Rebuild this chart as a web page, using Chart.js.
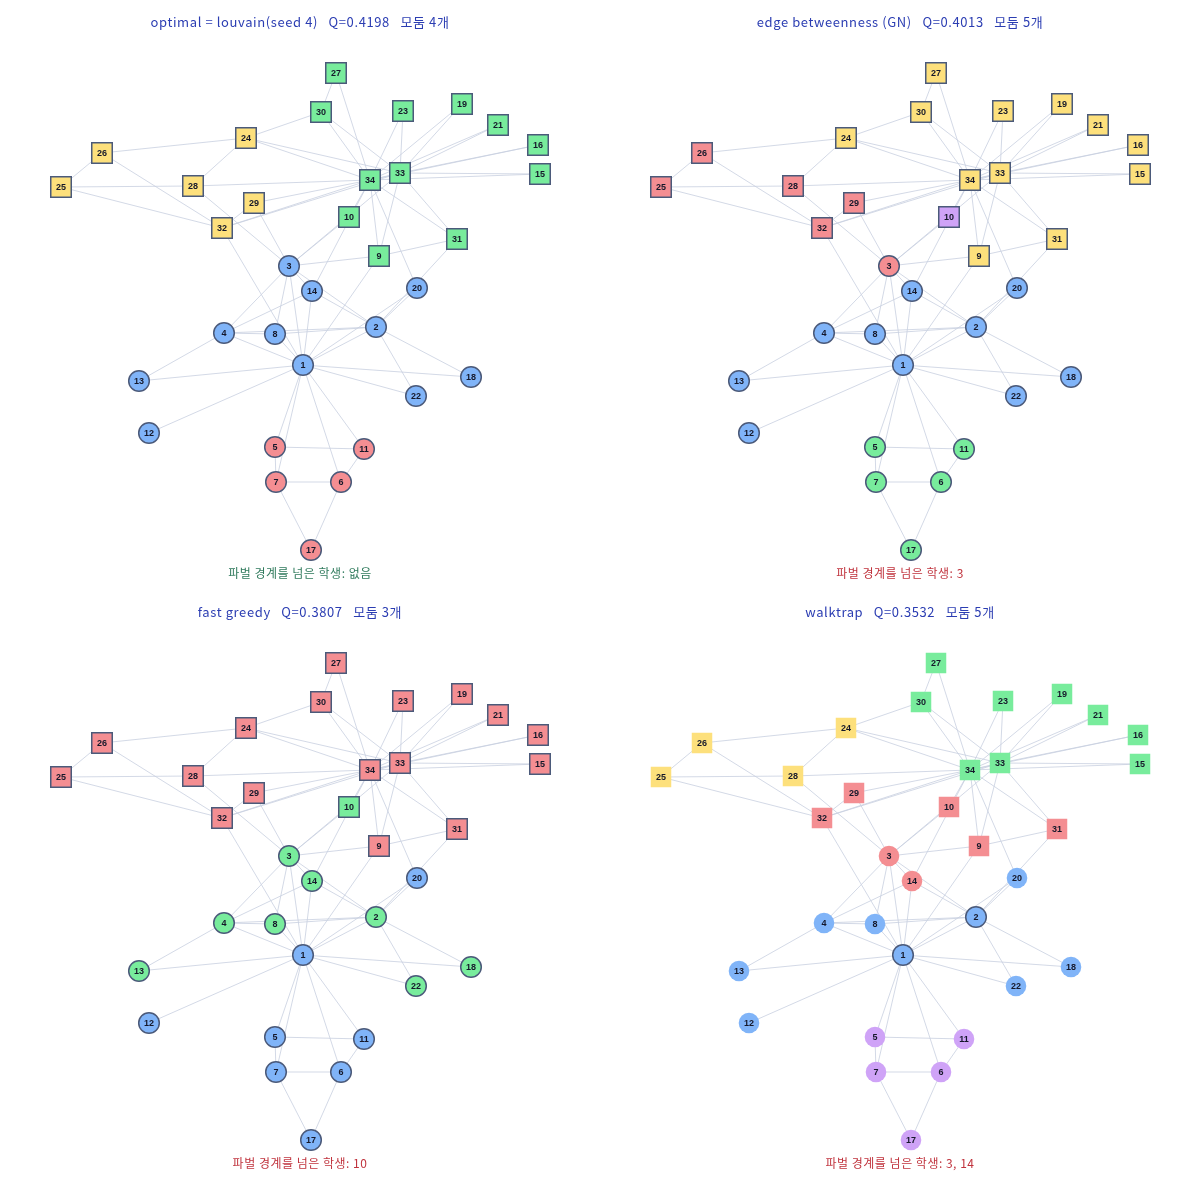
<!DOCTYPE html>
<html>
<head>
<meta charset="utf-8">
<script src="https://cdn.jsdelivr.net/npm/chart.js@4.4.1/dist/chart.umd.min.js"></script>
<style>
  body { margin: 0; background: #fff; }
  #wrap { position: relative; width: 1200px; height: 1180px; }
  .panel { position: absolute; width: 600px; height: 590px; }
  .panel canvas { position: absolute; left: 0; top: 0; }
  .ttl { position: absolute; left: 0; width: 600px; top: 12px; text-align: center; letter-spacing: 0.6px;
         font: 13px "Noto Sans CJK KR", "Noto Sans", sans-serif; color: #2b3db2; white-space: pre; }
  .cap { position: absolute; left: 0; width: 600px; top: 564px; text-align: center; letter-spacing: 0.5px;
         font: 12px "Noto Sans CJK KR", "Noto Sans", sans-serif; white-space: pre; }
</style>
</head>
<body>
<div id="wrap"></div>
<script>
// node ids and layout position (same layout in all 4 panels)
var nodeIds = [1,2,3,4,5,6,7,8,9,10,11,12,13,14,15,16,17,18,19,20,21,22,23,24,25,26,27,28,29,30,31,32,33,34];
var nodeX = [0.03,0.76,-0.11,-0.76,-0.25,0.41,-0.24,-0.25,0.79,0.49,0.64,-1.51,-1.61,0.12,2.40,2.38,0.11,1.71,1.62,1.17,1.98,1.16,1.03,-0.54,-2.39,-1.98,0.36,-1.07,-0.46,0.21,1.57,-0.78,1.00,0.70];
var nodeY = [0.00,0.38,0.99,0.32,-0.82,-1.17,-1.17,0.31,1.09,1.48,-0.84,-0.68,-0.16,0.74,1.91,2.20,-1.85,-0.12,2.61,0.77,2.40,-0.31,2.54,2.27,1.78,2.12,2.92,1.79,1.62,2.53,1.26,1.37,1.92,1.85];

// real faction: 0 = Mr. Hi (circle), 1 = Officer (square)
var faction = [0,0,0,0,0,0,0,0,1,1,0,0,0,0,1,1,0,0,1,0,1,0,1,1,1,1,1,1,1,1,1,1,1,1];

var edges = [
  [1,2],[1,3],[1,4],[1,5],[1,6],[1,7],[1,8],[1,9],[1,11],[1,12],[1,13],[1,14],[1,18],[1,20],[1,22],[1,32],
  [2,3],[2,4],[2,8],[2,14],[2,18],[2,20],[2,22],[2,31],
  [3,4],[3,8],[3,9],[3,10],[3,14],[3,28],[3,29],[3,33],
  [4,8],[4,13],[4,14],[5,7],[5,11],[6,7],[6,11],[6,17],[7,17],
  [9,31],[9,33],[9,34],[10,34],[14,34],[15,33],[15,34],[16,33],[16,34],[19,33],[19,34],
  [20,34],[21,33],[21,34],[23,33],[23,34],[24,26],[24,28],[24,30],[24,33],[24,34],
  [25,26],[25,28],[25,32],[26,32],[27,30],[27,34],[28,34],[29,32],[29,34],[30,33],[30,34],
  [31,33],[31,34],[32,33],[32,34],[33,34]
];

// community colour per node (B blue, R red, G green, Y yellow, P purple)
var commLouvain   = "BBBBRRRBGGRBBBGGRBGBGBGYYYGYYGGYGG";
var commGN        = "BBRBGGGBYPGBBBYYGBYBYBYYRRYRRYYRYY";
var commFast      = "BGGGBBBGRGBBGGRRBGRBRGRRRRRRRRRRRR";
var commWalktrap  = "BBRBPPPBRRPBBRGGPBGBGBGYYYGYRGRRGG";

var titles = [
  "optimal = louvain(seed 4)   Q=0.4198   모둠 4개",
  "edge betweenness (GN)   Q=0.4013   모둠 5개",
  "fast greedy   Q=0.3807   모둠 3개",
  "walktrap   Q=0.3532   모둠 5개"
];
var captions = [
  "파벌 경계를 넘은 학생: 없음",
  "파벌 경계를 넘은 학생: 3",
  "파벌 경계를 넘은 학생: 10",
  "파벌 경계를 넘은 학생: 3, 14"
];
var captionColors = ["#2f7a5c", "#c0333d", "#c0333d", "#c0333d"];

var palette = { B: "#80b4f8", R: "#f48e92", G: "#78ec9c", Y: "#fde07c", P: "#cfa3f7" };

var nodeLabels = {
  id: 'nodeLabels',
  afterDatasetsDraw: function(chart) {
    var ctx = chart.ctx;
    var meta = chart.getDatasetMeta(0);
    ctx.save();
    ctx.font = "bold 9px 'Liberation Sans', Arial, sans-serif";
    ctx.fillStyle = "#15182a";
    ctx.textAlign = "center";
    ctx.textBaseline = "middle";
    meta.data.forEach(function(pt, i) {
      ctx.fillText(String(nodeIds[i]), pt.x, pt.y + 0.5);
    });
    ctx.restore();
  }
};

function makePanel(idx, comm, bordered) {
  var wrap = document.getElementById("wrap");
  var div = document.createElement("div");
  div.className = "panel";
  div.style.left = (idx % 2) * 600 + "px";
  div.style.top = Math.floor(idx / 2) * 590 + "px";
  var canvas = document.createElement("canvas");
  canvas.width = 600; canvas.height = 590;
  canvas.style.width = "600px"; canvas.style.height = "590px";
  div.appendChild(canvas);
  var t = document.createElement("div");
  t.className = "ttl"; t.textContent = titles[idx];
  div.appendChild(t);
  var c = document.createElement("div");
  c.className = "cap"; c.textContent = captions[idx];
  c.style.color = captionColors[idx];
  div.appendChild(c);
  wrap.appendChild(div);

  var datasets = [];
  datasets.push({
    label: "nodes",
    order: 0,
    data: nodeIds.map(function(id, i) { return { x: nodeX[i], y: nodeY[i] }; }),
    pointStyle: faction.map(function(f) { return f ? 'rect' : 'circle'; }),
    pointRadius: faction.map(function(f) { return f ? 14.5 : 10.3; }),
    backgroundColor: nodeIds.map(function(id, i) { return palette[comm[i]]; }),
    borderColor: "#4b5a7a",
    borderWidth: nodeIds.map(function(id) { return bordered(id) ? 1.5 : 0; }),
    showLine: false
  });
  edges.forEach(function(e) {
    var a = e[0] - 1, b = e[1] - 1;
    datasets.push({
      order: 1,
      data: [{ x: nodeX[a], y: nodeY[a] }, { x: nodeX[b], y: nodeY[b] }],
      showLine: true,
      borderColor: "rgba(200,208,224,0.8)",
      borderWidth: 1,
      pointRadius: 0
    });
  });

  new Chart(canvas, {
    type: 'scatter',
    data: { datasets: datasets },
    options: {
      responsive: false,
      animation: false,
      events: [],
      devicePixelRatio: 1,
      layout: { padding: 0, autoPadding: false },
      plugins: { legend: { display: false }, tooltip: { enabled: false }, title: { display: false } },
      scales: {
        x: { display: false, min: -3, max: 3 },
        y: { display: false, min: -2.25, max: 3.65 }
      }
    },
    plugins: [nodeLabels]
  });
}

makePanel(0, commLouvain, function() { return true; });
makePanel(1, commGN, function() { return true; });
makePanel(2, commFast, function() { return true; });
makePanel(3, commWalktrap, function(id) { return id === 1 || id === 2; });
</script>
</body>
</html>
